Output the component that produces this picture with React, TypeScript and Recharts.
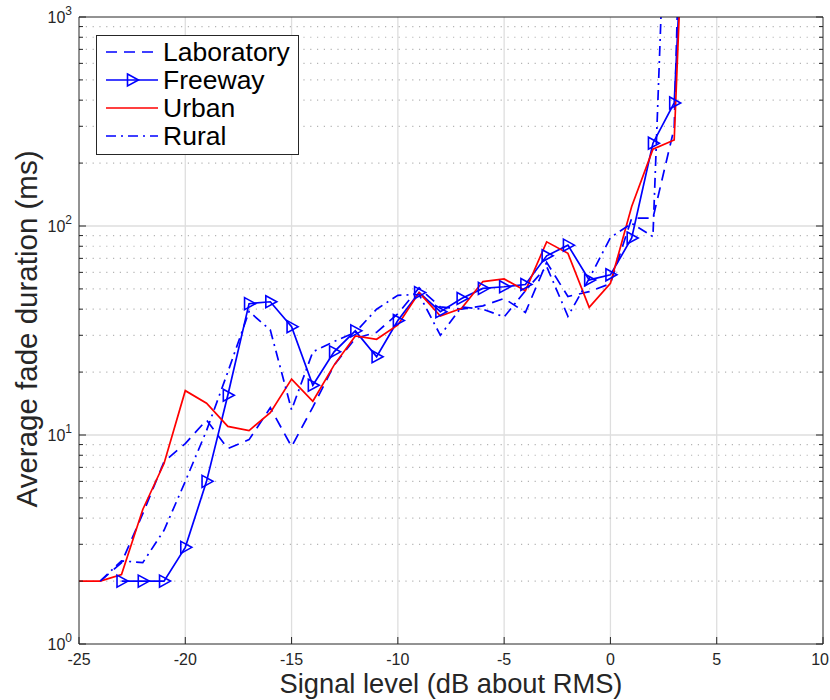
import React from "react";
import { LineChart, Line, XAxis, YAxis, ReferenceLine, Legend } from "recharts";

const W = 830;
const H = 700;
const LEFT = 79;
const RIGHT = 823;
const TOP = 17;
const BOTTOM = 644;

const AXIS = "#262626";
const BLUE = "#0000ff";
const RED = "#ff0000";
const FONT = '"Liberation Sans", Arial, Helvetica, sans-serif';

// signal level (dB about RMS) and average fade duration (ms) per environment
const labDb = [-24, -23, -22, -21, -20, -19, -18, -17, -16, -15, -14, -13, -12, -11, -10, -9, -8, -7, -6, -5, -4, -3, -2, -1, 0, 1, 2, 3, 4];
const labMs = [2, 2.45, 4.2, 7.45, 9.1, 11.8, 8.6, 9.5, 13.5, 8.8, 13.6, 21.6, 29, 31, 38, 50.6, 41, 40, 41.5, 45, 38.6, 67, 46, 48.5, 53, 109, 109, 294, 2e6];

const freewayDb = [-23, -22, -21, -20, -19, -18, -17, -16, -15, -14, -13, -12, -11, -10, -9, -8, -7, -6, -5, -4, -3, -2, -1, 0, 1, 2, 3, 4];
const freewayMs = [2, 2, 2, 2.9, 6.0, 15.5, 42.5, 43.4, 33, 17.3, 25, 31.5, 23.7, 35.3, 48, 38.9, 45, 50.3, 51.2, 52.5, 72, 81, 55.2, 58.4, 87.6, 249, 388, 5e4];

const urbanDb = [-25, -24, -23, -22, -21, -20, -19, -18, -17, -16, -15, -14, -13, -12, -11, -10, -9, -8, -7, -6, -5, -4, -3, -2, -1, 0, 1, 2, 3, 4];
const urbanMs = [2, 2, 2.15, 4.4, 7.3, 16.3, 14.2, 11.0, 10.5, 12.8, 18.5, 14.5, 21.6, 29.8, 28.7, 33.6, 48, 37.1, 40.4, 54.2, 55.8, 49, 84, 74, 40.8, 53.2, 124, 233, 258, 9e4];

const ruralDb = [-24, -23, -22, -21, -20, -19, -18, -17, -16, -15, -14, -13, -12, -11, -10, -9, -8, -7, -6, -5, -4, -3, -2, -1, 0, 1, 2, 3];
const ruralMs = [2, 2.5, 2.45, 3.5, 6.0, 10.5, 20, 39, 31.8, 13.2, 25, 28, 31, 40, 46.6, 47, 30, 41, 40, 36.7, 49, 64, 37, 56, 88, 103, 89, 5.4e4];

const X_TICKS = [-25, -20, -15, -10, -5, 0, 5, 10];
const Y_MAJOR = [1, 10, 100, 1000];
const Y_MINOR = [2, 3, 4, 5, 6, 7, 8, 9, 20, 30, 40, 50, 60, 70, 80, 90, 200, 300, 400, 500, 600, 700, 800, 900];
const Y_TICKS = [...Y_MAJOR, ...Y_MINOR].sort((a, b) => a - b);

const toPoints = (db: number[], ms: number[]) => db.map((d, i) => ({ db: d, ms: ms[i] }));

const SERIES = [
  { name: "Laboratory", data: toPoints(labDb, labMs), color: BLUE, dash: "11 7", marker: false },
  { name: "Freeway", data: toPoints(freewayDb, freewayMs), color: BLUE, dash: undefined, marker: true },
  { name: "Urban", data: toPoints(urbanDb, urbanMs), color: RED, dash: undefined, marker: false },
  { name: "Rural", data: toPoints(ruralDb, ruralMs), color: BLUE, dash: "10 5 2 5", marker: false },
];

const triPoints = (cx: number, cy: number) =>
  `${cx - 4.5},${cy - 6} ${cx + 6.5},${cy} ${cx - 4.5},${cy + 6}`;

const TriDot = (props: any) => {
  const { cx, cy, index } = props;
  if (cx == null || cy == null) return <g key={`d${index}`} />;
  return (
    <polygon key={`d${index}`} points={triPoints(cx, cy)} fill="none" stroke={BLUE} strokeWidth={1.6} />
  );
};

const BottomTick = ({ x, payload }: any) => {
  // the last label sits on the page edge, keep it inside
  const last = payload.value === X_TICKS[X_TICKS.length - 1];
  return (
    <g>
      <line x1={x} x2={x} y1={BOTTOM} y2={BOTTOM - 7} stroke={AXIS} />
      <text
        x={last ? W - 1 : x}
        y={BOTTOM + 21}
        textAnchor={last ? "end" : "middle"}
        fontSize={16}
        fill={AXIS}
        fontFamily={FONT}
      >
        {payload.value}
      </text>
    </g>
  );
};

const TopTick = ({ x }: any) => <line x1={x} x2={x} y1={TOP} y2={TOP + 7} stroke={AXIS} />;

const LeftTick = ({ y, payload }: any) => {
  const major = Y_MAJOR.includes(payload.value);
  return (
    <g>
      <line x1={LEFT} x2={LEFT + (major ? 7 : 4)} y1={y} y2={y} stroke={AXIS} />
      {major && (
        <text x={LEFT - 7} y={y + 6} textAnchor="end" fontSize={16} fill={AXIS} fontFamily={FONT}>
          10
          <tspan dy={-8} fontSize={12}>
            {Math.round(Math.log10(payload.value))}
          </tspan>
        </text>
      )}
    </g>
  );
};

const RightTick = ({ y, payload }: any) => {
  const major = Y_MAJOR.includes(payload.value);
  return <line x1={RIGHT} x2={RIGHT - (major ? 7 : 4)} y1={y} y2={y} stroke={AXIS} />;
};

const XTitle = () => (
  <text x={(LEFT + RIGHT) / 2} y={693} textAnchor="middle" fontSize={27.3} fill={AXIS} fontFamily={FONT}>
    Signal level (dB about RMS)
  </text>
);

const YTitle = () => (
  <text
    transform={`translate(37, 329) rotate(-90)`}
    textAnchor="middle"
    fontSize={29.5}
    fill={AXIS}
    fontFamily={FONT}
  >
    Average fade duration (ms)
  </text>
);

const LegendBox = () => (
  <svg width={203} height={120} style={{ display: "block" }}>
    <rect x={0.5} y={0.5} width={202} height={119} fill="#fff" stroke={AXIS} />
    {SERIES.map((s, i) => {
      const cy = 17 + i * 28;
      return (
        <g key={s.name}>
          <line x1={10} x2={62} y1={cy} y2={cy} stroke={s.color} strokeWidth={1.7} strokeDasharray={s.dash} />
          {s.marker && <polygon points={triPoints(36, cy)} fill="none" stroke={s.color} strokeWidth={1.6} />}
          <text x={67} y={cy + 8.5} fontSize={26.5} fill="#000" fontFamily={FONT}>
            {s.name}
          </text>
        </g>
      );
    })}
  </svg>
);

export default function App() {
  return (
    <div style={{ position: "absolute", left: 0, top: 0, width: W, height: H, background: "#fff" }}>
      <LineChart width={W} height={H} margin={{ top: 0, right: 0, bottom: 0, left: 19 }}>
        <XAxis
          xAxisId="b"
          dataKey="db"
          type="number"
          domain={[-25, 10]}
          ticks={X_TICKS}
          interval={0}
          height={56}
          axisLine={{ stroke: AXIS }}
          tickLine={false}
          tick={BottomTick}
          allowDataOverflow
          label={<XTitle />}
        />
        <XAxis
          xAxisId="t"
          orientation="top"
          type="number"
          domain={[-25, 10]}
          ticks={X_TICKS}
          interval={0}
          height={TOP}
          axisLine={{ stroke: AXIS }}
          tickLine={false}
          tick={TopTick}
          allowDataOverflow
        />
        <YAxis
          yAxisId="l"
          type="number"
          scale="log"
          domain={[1, 1000]}
          ticks={Y_TICKS}
          interval={0}
          width={60}
          axisLine={{ stroke: AXIS }}
          tickLine={false}
          tick={LeftTick}
          allowDataOverflow
          label={<YTitle />}
        />
        <YAxis
          yAxisId="r"
          orientation="right"
          type="number"
          scale="log"
          domain={[1, 1000]}
          ticks={Y_TICKS}
          interval={0}
          width={W - RIGHT}
          axisLine={{ stroke: AXIS }}
          tickLine={false}
          tick={RightTick}
          allowDataOverflow
        />

        {X_TICKS.slice(1, -1).map((v) => (
          <ReferenceLine key={`vx${v}`} xAxisId="b" yAxisId="l" x={v} stroke="#dedede" strokeWidth={1.3} />
        ))}
        {Y_MINOR.map((v) => (
          <ReferenceLine
            key={`mn${v}`}
            xAxisId="b"
            yAxisId="l"
            y={v}
            stroke="#b4b4b4"
            strokeWidth={1.2}
            strokeDasharray="1.2 5.6"
          />
        ))}
        {Y_MAJOR.slice(1, -1).map((v) => (
          <ReferenceLine key={`mj${v}`} xAxisId="b" yAxisId="l" y={v} stroke="#dedede" strokeWidth={1.3} />
        ))}

        {SERIES.map((s) => (
          <Line
            key={s.name}
            name={s.name}
            data={s.data}
            dataKey="ms"
            xAxisId="b"
            yAxisId="l"
            type="linear"
            stroke={s.color}
            strokeWidth={1.7}
            strokeDasharray={s.dash}
            dot={s.marker ? TriDot : false}
            activeDot={false}
            isAnimationActive={false}
          />
        ))}

        <Legend
          layout="vertical"
          align="center"
          verticalAlign="middle"
          content={<LegendBox />}
          wrapperStyle={{ position: "absolute", left: 96, top: 35, width: 203, height: 120 }}
        />
      </LineChart>
    </div>
  );
}
